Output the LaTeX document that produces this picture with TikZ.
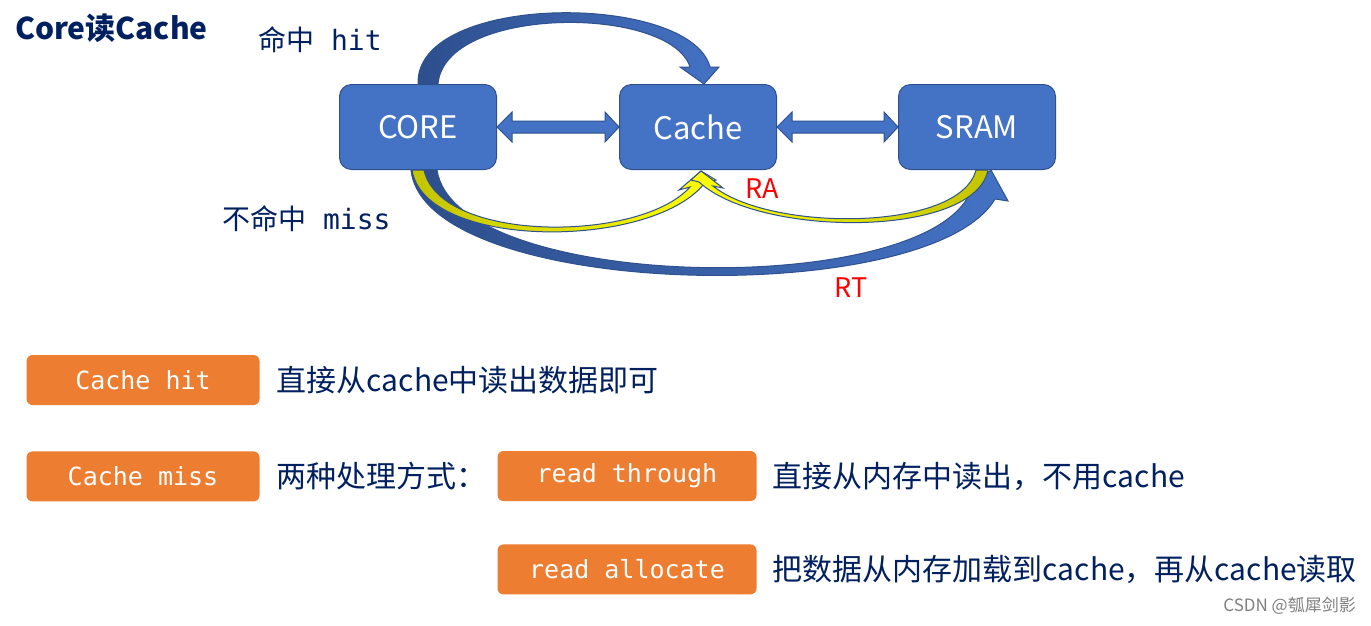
\documentclass[tikz,border=0pt]{standalone}
\usepackage{fontspec}
\setmainfont{Noto Sans CJK SC}
\setmonofont{DejaVu Sans Mono}
\usetikzlibrary{positioning,calc}

\definecolor{boxblue}{HTML}{4472C4}
\definecolor{edgeblue}{HTML}{2F528F}
\definecolor{deepblue}{HTML}{2D4E8C}
\definecolor{darkyellow}{HTML}{C4C400}
\definecolor{tagorange}{HTML}{ED7D31}
\definecolor{navytext}{HTML}{002060}

\begin{document}
\begin{tikzpicture}[x=1pt,y=-1pt,
  unitbox/.style={draw=edgeblue,line width=1pt,fill=boxblue,rounded corners=12pt,
    minimum width=157pt,minimum height=85pt,text=white,font=\fontsize{31}{36}\selectfont},
  tagbox/.style={fill=tagorange,rounded corners=6pt,minimum width=233pt,minimum height=50pt,
    text=white,font=\fontsize{25}{30}\selectfont\ttfamily},
  desc/.style={inner sep=0pt,text=navytext,font=\fontsize{30}{35}\selectfont},
  note/.style={inner sep=0pt,anchor=west,text=navytext,font=\fontsize{28}{32}\selectfont},
  redtext/.style={inner sep=0pt,text=red,font=\fontsize{27}{31}\selectfont},
  blockarrow/.style={draw=edgeblue,line width=1pt,fill=boxblue},
  bluebend/.style={draw=edgeblue,line width=1pt,left color=deepblue,right color=boxblue},
  yellowbend/.style={draw=edgeblue,line width=1pt,left color=darkyellow,right color=yellow}]
\path[use as bounding box,fill=white] (0,0) rectangle (1371,625);

% Title and hit / miss labels
\node[note,font=\bfseries\fontsize{30}{35}\selectfont] (heading) at (15,28) {Core读Cache};
\node[note] (hitnote) at (258,40) {命中\texttt{ hit}};
\node[note] (missnote) at (222,219) {不命中\texttt{ miss}};

% The three units
\node[unitbox] (core) at (418,127) {CORE};
\node[unitbox,right=122pt of core] (cache) {Cache};
\node[unitbox,right=121pt of cache] (sram) {SRAM};

% Two-way block arrows between units
\path[blockarrow] (core.east) -- ++(15,-15) -- ++(0,9) -- ($(cache.west)+(-14,-6)$) -- ++(0,-9)
  -- (cache.west) -- ++(-14,15) -- ++(0,-9) -- ($(core.east)+(15,6)$) -- ++(0,9) -- cycle;
\path[blockarrow] (cache.east) -- ++(15,-15) -- ++(0,9) -- ($(sram.west)+(-14,-6)$) -- ++(0,-9)
  -- (sram.west) -- ++(-14,15) -- ++(0,-9) -- ($(cache.east)+(15,6)$) -- ++(0,9) -- cycle;

% Hit: CORE over the top to Cache
\path[bluebend] (core.north) .. controls (415,-8) and (690,-8) .. (710,67) -- (719,67)
  -- ($(cache.north)+(6,0)$) -- (680,67) -- (690,67)
  .. controls (670,5) and (445,5) .. ($(core.north)+(20,0)$) -- cycle;

% Miss, read through: CORE under to SRAM
\path[bluebend] ($(core.south)+(-7,0)$) .. controls (425,300) and (930,310) .. (995,199)
  -- (1008,201) -- ($(sram.south)+(14,0)$) -- (958,195) -- (968,197)
  .. controls (910,300) and (455,290) .. ($(core.south)+(19,0)$) -- cycle;

% Miss: CORE under to Cache
\path[yellowbend] ($(core.south)+(-6,0)$) .. controls (425,250) and (650,250) .. (704,184)
  -- (716,180) -- ($(cache.south)+(3,1)$) -- (679,190) -- (690,187)
  .. controls (640,243) and (440,243) .. ($(core.south)+(6,0)$) -- cycle;

% Read allocate: SRAM under to Cache
\path[yellowbend,left color=yellow,right color=darkyellow] ($(sram.south)+(11,0)$)
  .. controls (975,238) and (760,238) .. (699,182) -- (691,180) -- ($(cache.south)+(3,1)$)
  -- (723,188) -- (713,186) .. controls (770,232) and (960,232) .. ($(sram.south)+(-1,0)$) -- cycle;

\node[redtext] (ra) at (762,189) {RA};
\node[redtext] (rt) at (851,288) {RT};

% Hit and miss handling
\node[tagbox] (hittag) at (143,380) {Cache hit};
\node[desc,right=17pt of hittag] (hitdesc) {直接从cache中读出数据即可};
\node[tagbox,below=46pt of hittag] (misstag) {Cache miss};
\node[desc,right=17pt of misstag] (missdesc) {两种处理方式：};
\node[tagbox,minimum width=259pt] (thrutag) at (627,476) {read through};
\node[desc,right=16pt of thrutag] (thrudesc) {直接从内存中读出，不用cache};
\node[tagbox,minimum width=259pt,below=43pt of thrutag] (alloctag) {read allocate};
\node[desc,right=16pt of alloctag] (allocdesc) {把数据从内存加载到cache，再从cache读取};

\node[anchor=east,inner sep=0pt,text=gray,font=\fontsize{17}{20}\selectfont] (mark) at (1356,606) {CSDN @瓠犀剑影};
\end{tikzpicture}
\end{document}
